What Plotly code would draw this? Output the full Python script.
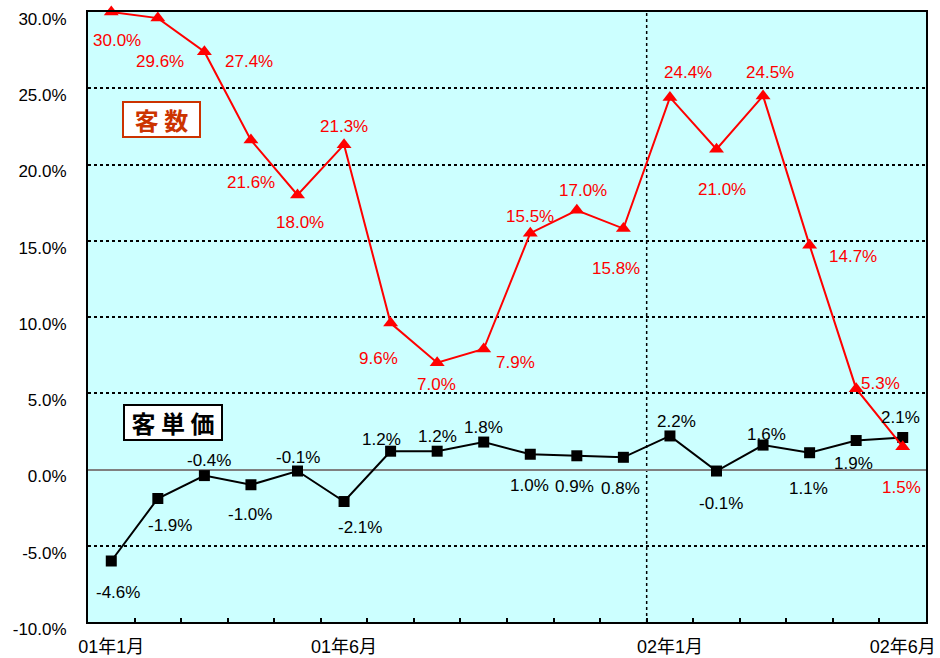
import plotly.graph_objects as go

# ---- data ----
months = ["01年1月", "01年2月", "01年3月", "01年4月", "01年5月", "01年6月",
          "01年7月", "01年8月", "01年9月", "01年10月", "01年11月", "01年12月",
          "02年1月", "02年2月", "02年3月", "02年4月", "02年5月", "02年6月"]
shown_tick_idx = [0, 5, 12, 17]

customers = [30.0, 29.6, 27.4, 21.6, 18.0, 21.3, 9.6, 7.0, 7.9, 15.5, 17.0, 15.8,
             24.4, 21.0, 24.5, 14.7, 5.3, 1.5]
customer_labels = ["30.0%", "29.6%", "27.4%", "21.6%", "18.0%", "21.3%", "9.6%", "7.0%",
                   "7.9%", "15.5%", "17.0%", "15.8%", "24.4%", "21.0%", "24.5%", "14.7%",
                   "5.3%", "1.5%"]

unit_price = [-6.0, -1.9, -0.4, -1.0, -0.1, -2.1, 1.2, 1.2, 1.8, 1.0, 0.9, 0.8,
              2.2, -0.1, 1.6, 1.1, 1.9, 2.1]
unit_price_labels = ["-4.6%", "-1.9%", "-0.4%", "-1.0%", "-0.1%", "-2.1%", "1.2%", "1.2%",
                     "1.8%", "1.0%", "0.9%", "0.8%", "2.2%", "-0.1%", "1.6%", "1.1%",
                     "1.9%", "2.1%"]

y_ticks = [-10, -5, 0, 5, 10, 15, 20, 25, 30]

# ---- label offsets (pixels, dx right / dy down) ----
red_off = [(6, 28), (2, 43), (45, 10), (0, 42), (2, 27), (0, -18), (-12, 35), (-1, 22),
           (32, 13), (0, -17), (6, -20), (-7, 40), (18, -25), (5, 40), (7, -23),
           (43, 11), (24, -5), (-1, 41)]
blk_off = [(7, 31), (12, 27), (5, -15), (-1, 30), (0, -14), (16, 26), (-9, -12), (0, -15),
           (0, -15), (-1, 31), (-2, 31), (-3, 31), (7, -14), (4, 32), (3, -11),
           (-1, 36), (-3, 23), (-2, -20)]

x = list(range(len(months)))
NUMFONT = "Liberation Sans, Arial, Noto Sans CJK JP, sans-serif"

fig = go.Figure()
fig.add_trace(go.Scatter(
    x=x, y=unit_price, mode="lines+markers", name="客単価",
    line=dict(color="black", width=2),
    marker=dict(symbol="square", size=11, color="black"),
    cliponaxis=False, hoverinfo="skip",
))
fig.add_trace(go.Scatter(
    x=x, y=customers, mode="lines+markers", name="客数",
    line=dict(color="#FF0000", width=2),
    marker=dict(symbol="triangle-up", size=13, color="#FF0000"),
    cliponaxis=False, hoverinfo="skip",
))

annotations = []
for i, (v, t) in enumerate(zip(customers, customer_labels)):
    dx, dy = red_off[i]
    annotations.append(dict(x=i, y=v, xref="x", yref="y", text=t, showarrow=False,
                            xshift=dx, yshift=-dy,
                            font=dict(family=NUMFONT, size=17, color="#FF0000")))
for i, (v, t) in enumerate(zip(unit_price, unit_price_labels)):
    dx, dy = blk_off[i]
    annotations.append(dict(x=i, y=v, xref="x", yref="y", text=t, showarrow=False,
                            xshift=dx, yshift=-dy,
                            font=dict(family=NUMFONT, size=17, color="black")))

annotations.append(dict(x=0.0883, y=0.8245, xref="paper", yref="paper", text="<b>客 数</b>",
                        xanchor="center", yanchor="middle", width=71, height=29,
                        showarrow=False, bgcolor="white", bordercolor="#CC3300", borderwidth=2,
                        borderpad=2,
                        font=dict(family="Noto Sans CJK JP", size=24, color="#CC3300")))
annotations.append(dict(x=0.1014, y=0.3268, xref="paper", yref="paper", text="<b>客 単 価</b>",
                        xanchor="center", yanchor="middle", width=92, height=29,
                        showarrow=False, bgcolor="white", bordercolor="black", borderwidth=2,
                        borderpad=2,
                        font=dict(family="Noto Sans CJK JP", size=24, color="black")))

fig.update_layout(
    width=940, height=658,
    margin=dict(l=88, r=14, t=12, b=36),
    paper_bgcolor="white",
    plot_bgcolor="#CCFFFF",
    showlegend=False,
    hovermode=False,
    annotations=annotations,
    shapes=[dict(type="line", xref="x", yref="paper", x0=11.5, x1=11.5, y0=0, y1=1,
                 line=dict(color="black", width=1.5, dash="dot"), layer="below")],
)

fig.update_xaxes(
    range=[-0.5, len(months) - 0.5],
    automargin=False,
    tickmode="array",
    tickvals=shown_tick_idx,
    ticktext=[months[i] for i in shown_tick_idx],
    ticks="", showgrid=False, zeroline=False,
    showline=True, linecolor="black", linewidth=2, mirror=True,
    tickfont=dict(family="Liberation Sans, Noto Sans CJK JP", size=18, color="black"),
    ticklabelstandoff=7,
    minor=dict(tickmode="array", tickvals=[i + 0.5 for i in range(len(months) - 1)],
               ticks="inside", ticklen=4, tickwidth=2, tickcolor="black", showgrid=False),
)

fig.update_yaxes(
    range=[-10, 30.001],
    automargin=False,
    tickmode="array",
    tickvals=y_ticks,
    ticktext=[f"{v:.1f}%" for v in y_ticks],
    ticks="",
    showgrid=True, gridcolor="black", griddash="dot", gridwidth=1.5,
    zeroline=True, zerolinecolor="#808080", zerolinewidth=2,
    showline=True, linecolor="black", linewidth=2, mirror=True,
    tickfont=dict(family=NUMFONT, size=17, color="black"),
    ticklabelstandoff=16,
    ticklabelshift=7,
    ticklabeloverflow="allow",
)

fig.write_html("out.html", config={"displayModeBar": False},
               post_script="document.body.style.margin='0';")
